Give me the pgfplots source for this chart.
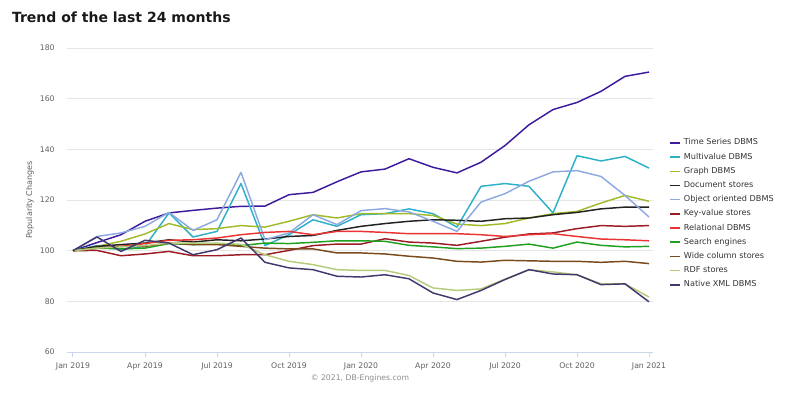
\documentclass[border=0pt]{standalone}
\usepackage{pgfplots}
\pgfplotsset{compat=1.18}
\usepackage{pgfplotstable}
\usepackage{fontspec}
\setmainfont{DejaVu Sans}
\definecolor{cTS}{HTML}{3D1A9E}
\definecolor{cMV}{HTML}{2DB0C8}
\definecolor{cGR}{HTML}{A0BB2A}
\definecolor{cDOC}{HTML}{222222}
\definecolor{cOO}{HTML}{8DA9E0}
\definecolor{cKV}{HTML}{9B1C25}
\definecolor{cREL}{HTML}{EA3434}
\definecolor{cSE}{HTML}{1FA01F}
\definecolor{cWC}{HTML}{7B4A1C}
\definecolor{cRDF}{HTML}{B5CC7A}
\definecolor{cXML}{HTML}{41386E}
\definecolor{gridc}{HTML}{E6E6E6}
\definecolor{axc}{HTML}{CCD6EB}
\definecolor{lab}{HTML}{606060}

\pgfplotstableread{
m   ts    mv    gr    doc   oo    kv    rel   se    wc    rdf   xml
0   100   100   100   100   100   100   100   100   100   100   100
1   103.2 102.0 101.7 101.7 105.6 100.1 101.0 101.0 101.0 101.0 105.4
2   106.3 100.4 103.7 102.4 107.0 98.0  101.7 100.7 101.7 101.5 99.7
3   111.6 101.7 106.6 103.0 109.6 98.7  102.8 101.0 101.7 102.0 104.1
4   114.9 114.9 110.7 104.3 115.1 99.7  104.1 102.8 103.0 103.0 103.0
5   115.9 105.4 108.3 103.4 108.0 98.0  104.3 102.4 102.4 103.0 98.4
6   116.8 107.6 108.7 104.3 112.2 98.0  105.0 102.8 102.4 103.0 100.4
7   117.5 126.5 109.9 103.9 130.9 98.4  106.3 102.0 101.7 102.5 105.0
8   117.6 102.0 109.3 104.6 104.3 98.4  107.2 103.0 101.0 98.4  95.4
9   122.1 106.3 111.6 105.6 107.0 100.1 107.6 102.8 100.7 95.8  93.2
10  123.0 112.2 114.2 106.0 114.2 102.0 106.3 103.3 100.7 94.5  92.5
11  127.2 109.6 112.9 108.0 110.3 102.6 107.6 103.9 99.1  92.5  89.9
12  131.1 114.2 114.6 109.6 115.8 102.6 107.6 103.9 99.1  92.2  89.6
13  132.2 114.6 114.6 110.7 116.6 104.7 107.2 103.7 98.7  92.2  90.5
14  136.3 116.5 114.6 111.6 115.3 103.4 106.7 102.1 97.8  90.2  88.9
15  132.9 114.6 113.9 112.2 111.6 103.0 106.7 101.5 97.1  85.3  83.3
16  130.7 109.3 110.5 112.0 107.6 102.1 106.7 100.8 95.8  84.3  80.7
17  134.9 125.4 109.9 111.6 119.2 103.7 106.3 101.0 95.5  84.9  84.3
18  141.5 126.5 110.7 112.6 122.5 105.3 105.6 101.7 96.2  88.8  88.6
19  149.7 125.4 112.9 112.9 127.4 106.6 106.3 102.6 96.0  92.5  92.5
20  155.7 114.9 114.6 114.2 131.1 107.0 106.7 101.0 95.8  91.6  90.8
21  158.5 137.5 115.5 115.1 131.6 108.7 105.6 103.4 95.8  90.5  90.5
22  162.9 135.4 118.8 116.5 129.3 109.9 104.6 102.1 95.4  86.9  86.6
23  168.8 137.2 121.8 117.2 121.8 109.6 104.3 101.5 95.8  86.9  86.9
24  170.5 132.6 119.5 117.2 113.3 109.9 103.9 101.7 94.9  81.7  79.8
}\data

\begin{document}
\begin{tikzpicture}
\useasboundingbox (0,0) rectangle (600pt,295.5pt);
\begin{axis}[
  scale only axis,
  width=439.5pt, height=228pt,
  at={(50.25pt,31.5pt)}, anchor=south west,
  xmin=-0.25, xmax=24.1667, ymin=60, ymax=180,
  axis x line*=bottom, axis y line*=left,
  y axis line style={draw=none},
  x axis line style={draw=axc, line width=0.75pt},
  xtick={0,3,...,24},
  xticklabels={Jan 2019,Apr 2019,Jul 2019,Oct 2019,Jan 2020,Apr 2020,Jul 2020,Oct 2020,Jan 2021},
  ytick={60,80,...,180},
  ytick style={draw=none},
  xtick style={draw=axc, line width=0.75pt},
  tick align=outside, major tick length=3.75pt,
  ymajorgrids, grid style={draw=gridc, line width=0.75pt},
  tick label style={font=\fontsize{5.8}{6.5}\selectfont, text=lab},
  /pgf/number format/assume math mode=true,
  yticklabel style={xshift=-2pt},
  xticklabel style={yshift=-1pt},
  legend cell align=left,
  legend style={draw=none, fill=none, at={(1.02,0.72)}, anchor=north west,
    font=\fontsize{6.1}{7}\selectfont, row sep=0.55pt, text=black!80},
  legend image code/.code={\draw[#1, line width=1.2pt] (0pt,0pt) -- (8pt,0pt);},
  every axis plot/.append style={line width=1.1pt, line join=round, mark=none},
]
\addplot[cTS]  table[x=m,y=ts]  {\data};
\addplot[cMV]  table[x=m,y=mv]  {\data};
\addplot[cGR]  table[x=m,y=gr]  {\data};
\addplot[cDOC] table[x=m,y=doc] {\data};
\addplot[cOO]  table[x=m,y=oo]  {\data};
\addplot[cKV]  table[x=m,y=kv]  {\data};
\addplot[cREL] table[x=m,y=rel] {\data};
\addplot[cSE]  table[x=m,y=se]  {\data};
\addplot[cWC]  table[x=m,y=wc]  {\data};
\addplot[cRDF] table[x=m,y=rdf] {\data};
\addplot[cXML] table[x=m,y=xml] {\data};
\legend{Time Series DBMS,Multivalue DBMS,Graph DBMS,Document stores,Object oriented DBMS,Key-value stores,Relational DBMS,Search engines,Wide column stores,RDF stores,Native XML DBMS}
\end{axis}
\node[anchor=base west, font=\bfseries\fontsize{10.5}{12}\selectfont, text=black!90] at (5.5pt,278.5pt) {Trend of the last 24 months};
\node[rotate=90, font=\fontsize{6}{7}\selectfont, text=lab] at (22.5pt,145.5pt) {Popularity Changes};
\node[font=\fontsize{5.8}{7}\selectfont, text=black!45] at (270pt,11.5pt) {\textcopyright{} 2021, DB-Engines.com};
\end{tikzpicture}
\end{document}
